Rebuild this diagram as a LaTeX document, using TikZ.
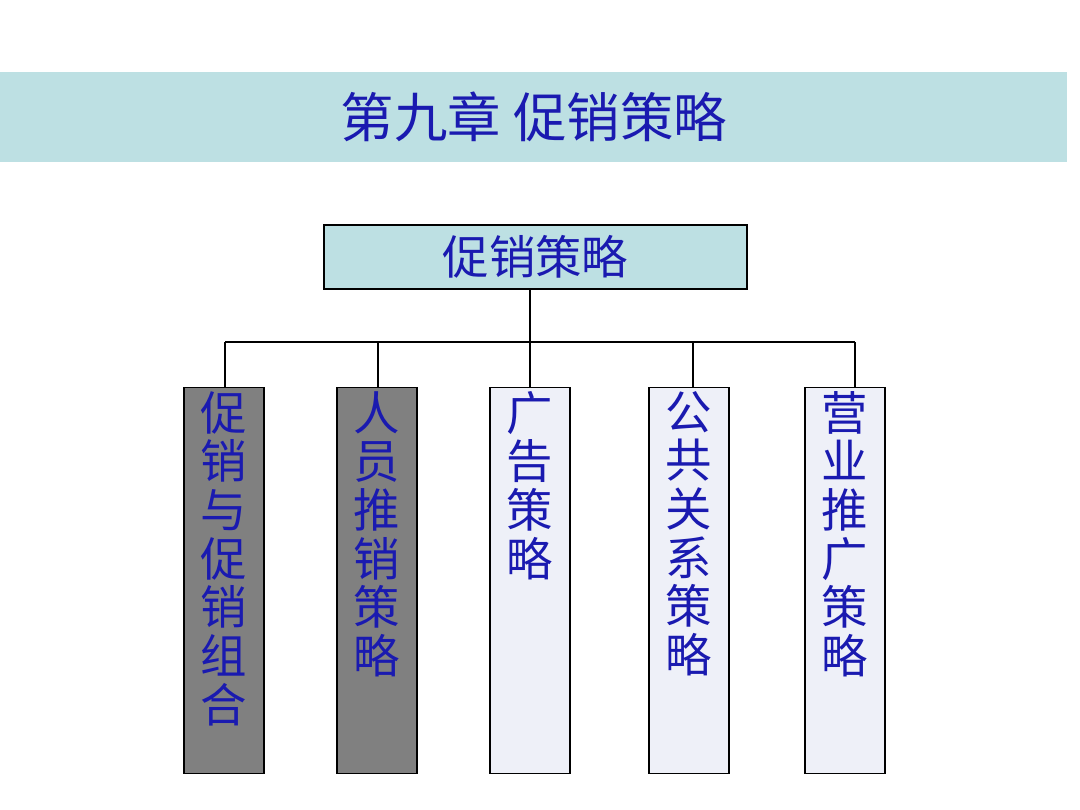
\documentclass[tikz,border=0pt]{standalone}
\usepackage{fontspec}
\newfontfamily\cjk{Noto Sans CJK SC}
\usetikzlibrary{positioning,calc}
\definecolor{bandteal}{HTML}{BDE0E3}
\definecolor{textblue}{HTML}{1A1AB0}
\definecolor{paleblue}{HTML}{EEF0F8}
\tikzset{
  topbox/.style={draw, thick, fill=bandteal, minimum width=10.575cm, minimum height=1.6cm, font=\cjk\fontsize{33}{38}\selectfont, text=textblue},
  colbox/.style={draw, thick, minimum width=2cm, minimum height=9.65cm, anchor=north},
  coltext/.style={anchor=north, align=center, font=\cjk\fontsize{33}{34.6}\selectfont, text=textblue, inner sep=0pt},
  link/.style={thick}
}
\begin{document}
\begin{tikzpicture}[x=0.025cm,y=-0.025cm]
    \useasboundingbox (0,0) rectangle (1080,810);
    % title band
    \fill[bandteal] (0,72) rectangle (1067,162);
    \node[font=\cjk\fontsize{38}{42}\selectfont, text=textblue] (title) at (534,117) {第九章 促销策略};

    % root
    \node[topbox] (root) at (535.5,257) {促销策略};

    % columns
    \foreach \n/\x/\fillc/\txt in {a/224/gray/{促\\销\\与\\促\\销\\组\\合}, b/377/gray/{人\\员\\推\\销\\策\\略}, c/530/paleblue/{广\\告\\策\\略}, d/689/paleblue/{公\\共\\关\\系\\策\\略}, e/845/paleblue/{营\\业\\推\\广\\策\\略}} {
        \node[colbox, fill=\fillc] (\n) at (\x,387) {};
        \node[coltext] (\n t) at (\x,391) {\txt};
    }

    % connectors
    \coordinate (busl) at (225,342);
    \coordinate (busr) at (855,342);
    \coordinate (stem) at (530,342);
    \draw[link] (stem |- root.south) -- (stem);
    \draw[link] (busl) -- (busr);
    \foreach \n/\x in {a/225, b/378, c/530, d/693, e/855} {
        \coordinate (drop\n) at (\x,342);
        \draw[link] (drop\n) -- (drop\n |- \n.north);
    }
\end{tikzpicture}
\end{document}
